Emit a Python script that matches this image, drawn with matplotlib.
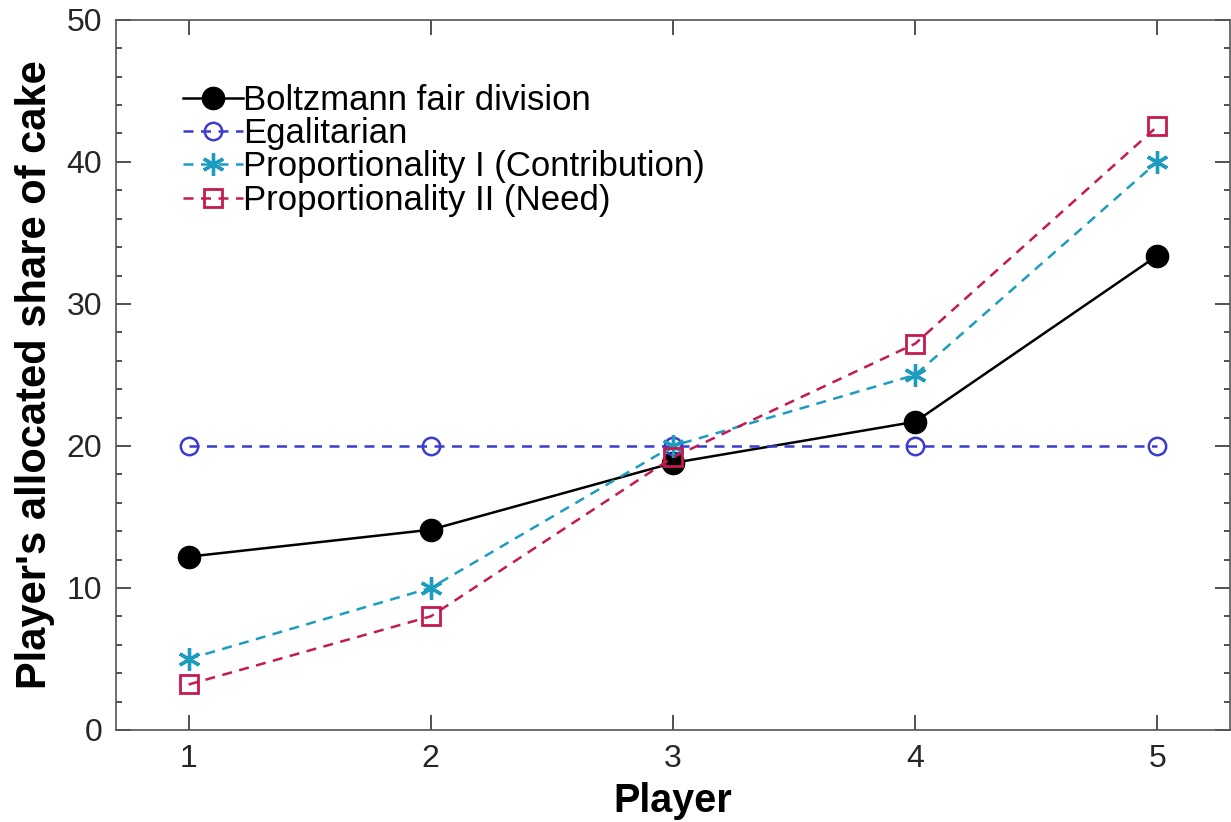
import numpy as np
import matplotlib
matplotlib.use("Agg")
import matplotlib.pyplot as plt
from matplotlib.ticker import MultipleLocator

plt.rcParams['font.family'] = ['Liberation Sans', 'DejaVu Sans']

players = [1, 2, 3, 4, 5]
boltzmann = [12.2, 14.1, 18.8, 21.7, 33.4]
egalitarian = [20, 20, 20, 20, 20]
prop_contrib = [5, 10, 20, 25, 40]
prop_need = [3.2, 8.0, 19.2, 27.2, 42.5]

fig = plt.figure(figsize=(12.31, 8.22), dpi=100)
ax = fig.add_axes([0.0942, 0.112, 0.905, 0.8638])

dash = (0, (4, 3))
ax.plot(players, boltzmann, '-', color='black', lw=1.8, marker='o',
        ms=16, mfc='black', mec='black', label='Boltzmann fair division')
ax.plot(players, egalitarian, linestyle=dash, color='#3b3bd0', lw=1.8, marker='o',
        ms=12.5, mfc='none', mec='#3b3bd0', mew=1.8, label='Egalitarian')
ax.plot(players, prop_contrib, linestyle=dash, color='#1c9dbf', lw=1.8, marker=(6, 2, 0),
        ms=16, mew=2.4, label='Proportionality I (Contribution)')
ax.plot(players, prop_need, linestyle=dash, color='#c41a50', lw=1.8, marker='s',
        ms=13.5, mfc='none', mec='#c41a50', mew=2.0, label='Proportionality II (Need)')

ax.set_xlim(0.7, 5.3)
ax.set_ylim(0, 50)
ax.set_xticks(players)
ax.set_yticks([0, 10, 20, 30, 40, 50])
ax.yaxis.set_minor_locator(MultipleLocator(2))
ax.tick_params(which='both', direction='in', top=True, right=True,
               labelsize=23, colors='#333333', labelcolor='#262626')
ax.tick_params(which='major', length=10.5, width=1.2, pad=10)
ax.tick_params(which='minor', length=4.5, width=1.2)
for s in ax.spines.values():
    s.set_color('#555555')
    s.set_linewidth(1.2)

ax.set_xlabel('Player', fontsize=28.5, fontweight='bold', labelpad=6)
ax.set_ylabel("Player's allocated share of cake", fontsize=30, fontweight='bold', labelpad=8)

ax.legend(loc='upper left', bbox_to_anchor=(0.06, 0.91), frameon=False,
          fontsize=25, handlelength=1.73, handletextpad=0.0, labelspacing=0.01,
          borderaxespad=0, borderpad=0)

fig.savefig('out.png', dpi=100)
